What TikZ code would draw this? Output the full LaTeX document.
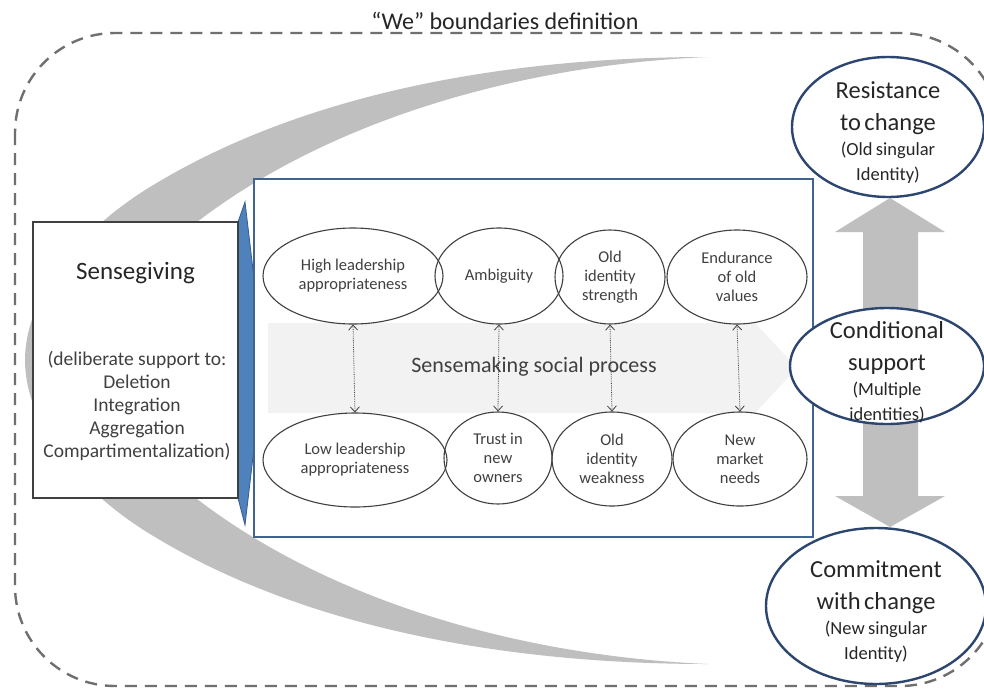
\documentclass[tikz,border=0pt]{standalone}
\usepackage{fontspec}
\setmainfont{Carlito}
\usetikzlibrary{shapes.geometric,arrows.meta}
\definecolor{arcgray}{HTML}{BFBFBF}
\definecolor{bandgray}{HTML}{F2F2F2}
\definecolor{framegray}{HTML}{6F6F6F}
\definecolor{givefill}{HTML}{4F81BD}
\definecolor{givedraw}{HTML}{385D8A}
\definecolor{boxblue}{HTML}{41638F}
\definecolor{outblue}{HTML}{2C4670}
\definecolor{ellgray}{HTML}{404040}
\definecolor{txtdark}{HTML}{262626}
\definecolor{txtgray}{HTML}{404040}
\newcommand\bigtxt{\fontsize{24.5}{32}\selectfont}
\newcommand\smalltxt{\fontsize{18.5}{25}\selectfont}

\begin{document}
\begin{tikzpicture}[x=1pt,y=-1pt,
	factor/.style={draw=ellgray,line width=1.1pt,ellipse,inner sep=0pt,align=center,text=txtgray,font=\fontsize{16.5}{19}\selectfont},
	outcome/.style={draw=outblue,line width=2.4pt,ellipse,fill=white,inner sep=0pt},
	outtext/.style={text width=190pt,align=center,text=txtdark},
	link/.style={densely dotted,line width=0.8pt,draw=ellgray,{Straight Barb[length=5pt,width=9pt]}-{Straight Barb[length=5pt,width=9pt]}}]
	\fill[white] (0,0) rectangle (984,688);
	\useasboundingbox (0,0) rectangle (984,688);
	\draw[framegray,line width=2.4pt,dash pattern=on 12pt off 8pt,rounded corners=100pt] (15,33) rectangle (1000,686);
	\node[text=txtdark,font=\fontsize{24}{28}\selectfont] (title) at (505,21) {“We” boundaries definition};
	\fill[arcgray] (708,57) .. controls (500,57) and (300,95) .. (150,187) .. controls (75,233) and (25,300) .. (25,360)
		.. controls (25,421) and (75,488) .. (150,534) .. controls (300,626) and (500,664) .. (708,664)
		.. controls (520,656) and (330,601) .. (197,499) .. controls (150,463) and (140,411) .. (140,360)
		.. controls (140,310) and (150,258) .. (197,222) .. controls (330,120) and (520,65) .. (708,57) -- cycle;
	\filldraw[fill=givefill,draw=givedraw,line width=0.8pt] (238,222) -- (245,202) -- (264,363) -- (245,525) -- (238,498) -- cycle;
	\node[draw=ellgray,line width=1.4pt,fill=white,minimum width=205pt,minimum height=276pt] (give) at (135.5,360) {};
	\node[text=txtdark,font=\fontsize{25}{30}\selectfont] (givetitle) at (135.5,273) {Sensegiving};
	\node[text=txtgray,align=center,font=\fontsize{19.5}{23}\selectfont] (givelist) at (137,406) {(deliberate support to:\\Deletion\\Integration\\Aggregation\\Compartimentalization)};
	\node[draw=boxblue,line width=1.8pt,fill=white,minimum width=559pt,minimum height=358pt] (make) at (533.5,358) {};
	\fill[bandgray] (268,323) -- (755,323) -- (797,368) -- (755,413) -- (268,413) -- cycle;
	\node[text=txtgray,font=\fontsize{22}{26}\selectfont] (proc) at (534,367) {Sensemaking social process};
	\node[factor,minimum width=180pt,minimum height=96pt] (hi) at (353,276) {High leadership\\appropriateness};
	\node[factor,minimum width=128pt,minimum height=96pt] (amb) at (499,276) {Ambiguity};
	\node[factor,minimum width=110pt,minimum height=94pt] (olds) at (610,277) {Old\\identity\\strength};
	\node[factor,minimum width=140pt,minimum height=94pt] (endu) at (737,277) {Endurance\\of old\\values};
	\node[factor,minimum width=184pt,minimum height=94pt] (lo) at (355,460) {Low leadership\\appropriateness};
	\node[factor,minimum width=108pt,minimum height=92pt] (trust) at (498,458) {Trust in\\new\\owners};
	\node[factor,minimum width=120pt,minimum height=94pt] (oldw) at (612,459) {Old\\identity\\weakness};
	\node[factor,minimum width=134pt,minimum height=94pt] (newm) at (740,459) {New\\market\\needs};
	\draw[link] (hi.south) -- (lo.north);
	\draw[link] (amb.south) -- (trust.north);
	\draw[link] (olds.south) -- (oldw.north);
	\draw[link] (endu.south) -- (newm.north);
	\fill[arcgray] (890,198) -- (945,232) -- (918,232) -- (918,496) -- (945,496) -- (890,527) -- (835,496) -- (863,496) -- (863,232) -- (835,232) -- cycle;
	\node[outcome,minimum width=192pt,minimum height=140pt] (res) at (888,127) {};
	\node[outcome,minimum width=194pt,minimum height=116pt] (cond) at (887,366) {};
	\node[outcome,minimum width=220pt,minimum height=156pt] (comm) at (876,606) {};
	\node[outtext] (restext) at ([yshift=-6pt]res.center) {\bigtxt Resistance\\to change\par\smalltxt (Old singular\\Identity)\par};
	\node[outtext] (condtext) at ([yshift=-6pt]cond.center) {\bigtxt Conditional\\support\par\smalltxt (Multiple\\identities)\par};
	\node[outtext] (commtext) at ([yshift=-6pt]comm.center) {\bigtxt Commitment\\with change\par\smalltxt (New singular\\Identity)\par};
\end{tikzpicture}
\end{document}
